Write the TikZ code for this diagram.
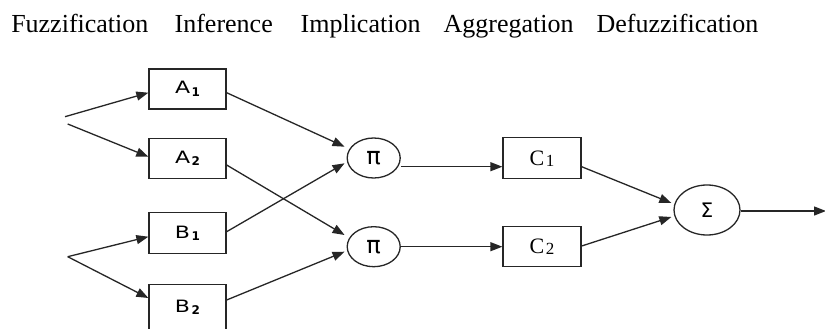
\documentclass[tikz,border=0pt]{standalone}
\usepackage{fontspec}
\setmainfont{Liberation Serif}
\newfontfamily\dvs{DejaVu Sans}
\usetikzlibrary{arrows.meta,calc,shapes.geometric}
\newcommand{\sublbl}[2]{\scalebox{1.3}[1]{\dvs\fontsize{17}{20}\selectfont #1}\kern1.5pt\raisebox{-2.5pt}{\dvs\bfseries\fontsize{12}{14}\selectfont #2}}
\newcommand{\clbl}[2]{{\fontsize{22}{24}\selectfont #1}\kern1.5pt\raisebox{-1pt}{\fontsize{17}{18}\selectfont #2}}
\begin{document}
\begin{tikzpicture}[x=1pt,y=-1pt,
  line width=1.3pt, draw=black!85,
  title/.style={anchor=base west,inner sep=0pt,font=\fontsize{26}{30}\selectfont},
  blk/.style={draw,minimum width=77pt,minimum height=40pt,inner sep=0pt},
  circ/.style={draw,ellipse,minimum width=53pt,minimum height=40pt,inner sep=0pt},
  arr/.style={-{Triangle[length=12pt,width=9pt]}},
  sym/.style={font=\dvs\fontsize{24}{26}\selectfont}]
\useasboundingbox (0,0) rectangle (825,329);
\fill[white] (0,0) rectangle (825,329);
% titles
\node[title] (t1) at (10.6,32.5) {Fuzzification};
\node[title] (t2) at (174,32.5) {Inference};
\node[title] (t3) at (300,32.5) {Implication};
\node[title] (t4) at (443,32.5) {Aggregation};
\node[title] (t5) at (596,32.5) {Defuzzification};
% boxes
\node[blk] (A1) at (187.5,89) {\sublbl{A}{1}};
\node[blk] (A2) at (187.5,158.3) {\sublbl{A}{2}};
\node[blk,minimum height=41pt] (B1) at (187.5,233.3) {\sublbl{B}{1}};
\node[blk,minimum height=50pt] (B2) at (187.5,309.3) {\raisebox{6pt}{\sublbl{B}{2}}};
\node[circ,sym] (P1) at (373.7,158) {π};
\node[circ,sym] (P2) at (373.7,246.7) {π};
\node[blk,minimum width=78pt,minimum height=41pt] (C1) at (542,158.3) {\clbl{C}{1}};
\node[blk,minimum width=78pt] (C2) at (542,246.7) {\clbl{C}{2}};
\node[circ,minimum width=66pt,minimum height=50pt,font=\dvs\fontsize{20}{22}\selectfont] (S) at (707,210) {Σ};
% sources
\coordinate (sa1) at (65,116.7);
\coordinate (sa2) at (67.7,124);
\coordinate (sb) at (67.7,256.7);
\coordinate (out) at (826,211);
% connectors
\draw[arr] (sa1) -- ($(A1.west)+(0,3.7)$);
\draw[arr] (sa2) -- ($(A2.west)+(0,-1.6)$);
\draw[arr] (sb) -- ($(B1.west)+(0,3.4)$);
\draw[arr] (sb) -- ($(B2.west)+(0,-11.3)$);
\draw[arr] ($(A1.east)+(0,3.7)$) -- ($(P1.west)+(-2,-11.3)$);
\draw[arr] ($(B1.east)+(0,-1.6)$) -- ($(P1.west)+(-2,5.3)$);
\draw[arr] ($(A2.east)+(0,6.7)$) -- ($(P2.west)+(-2,-11.7)$);
\draw[arr] ($(B2.east)+(0,-9.3)$) -- ($(P2.west)+(-2,5)$);
\draw[arr] ($(P1.east)+(0,8.7)$) -- ($(C1.west)+(0,8.4)$);
\draw[arr] (P2.east) -- (C2.west);
\draw[arr] ($(C1.east)+(0,8.4)$) -- ($(S.west)+(-2,-7)$);
\draw[arr] ($(C2.east)+(0,-0.7)$) -- ($(S.west)+(-2,7)$);
\draw[arr] ($(S.east)+(0,1)$) -- (out);
\end{tikzpicture}
\end{document}
